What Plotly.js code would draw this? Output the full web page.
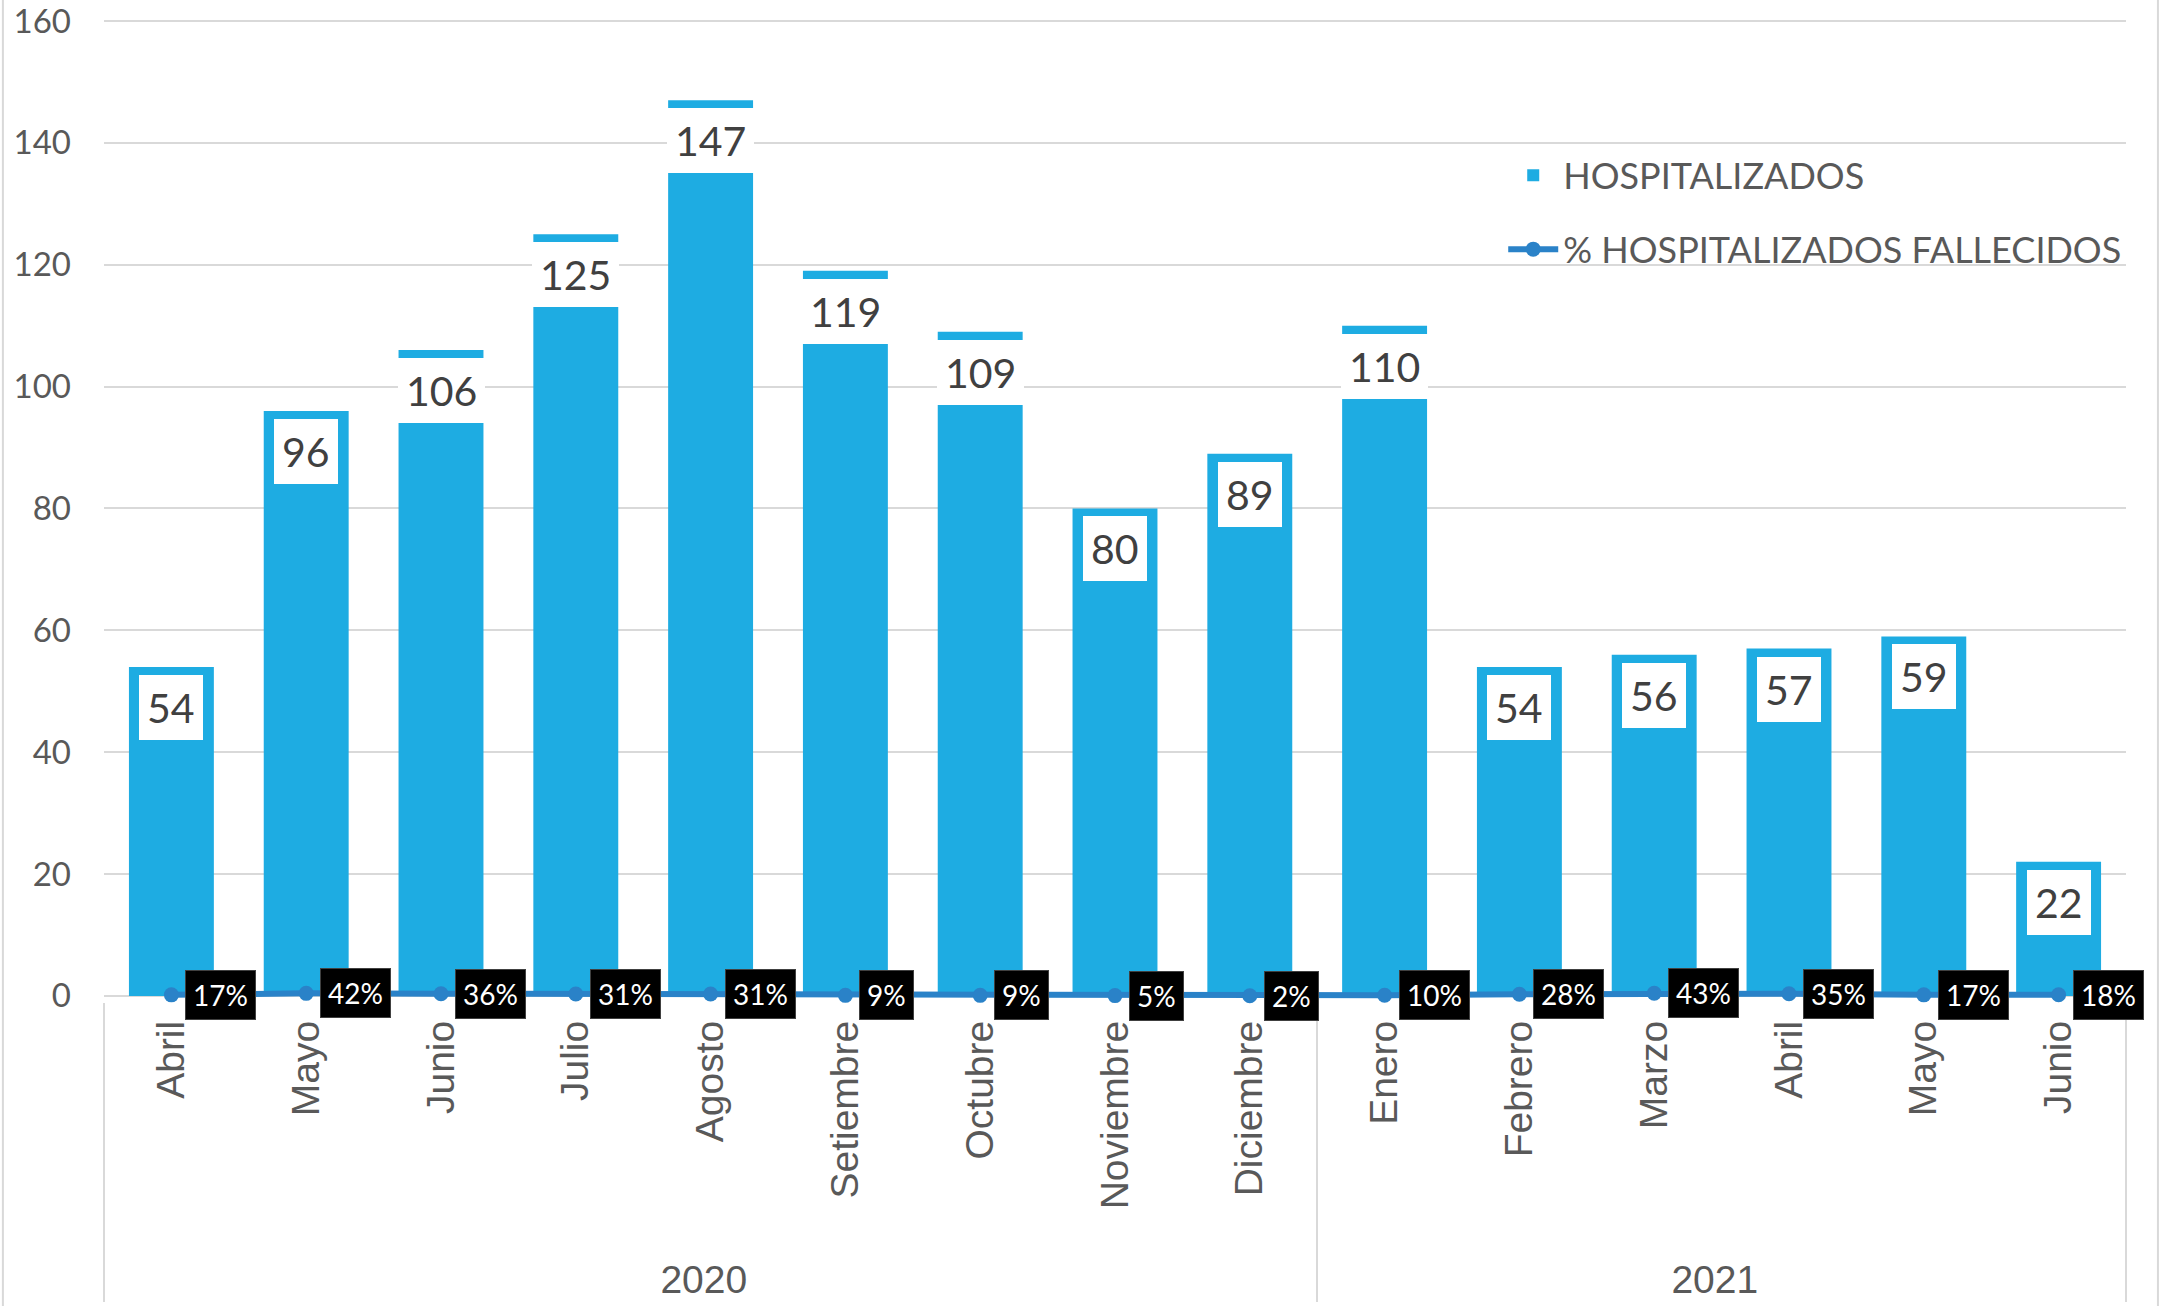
<!DOCTYPE html>
<html>
<head>
<meta charset="utf-8">
<script src="https://cdn.plot.ly/plotly-3.0.1.min.js"></script>
<style>
  html, body { margin: 0; padding: 0; background: #ffffff; }
  #chart { width: 2161px; height: 1306px; }
</style>
</head>
<body>
<div id="chart"></div>
<script>
// ---- data ----
const years = ['2020','2020','2020','2020','2020','2020','2020','2020','2020',
               '2021','2021','2021','2021','2021','2021'];
const months = ['Abril','Mayo','Junio','Julio','Agosto','Setiembre','Octubre','Noviembre','Diciembre',
                'Enero','Febrero','Marzo','Abril','Mayo','Junio'];
const hospitalizados = [54, 96, 106, 125, 147, 119, 109, 80, 89, 110, 54, 56, 57, 59, 22];
const pctFallecidos = [0.17, 0.42, 0.36, 0.31, 0.31, 0.09, 0.09, 0.05, 0.02, 0.10, 0.28, 0.43, 0.35, 0.17, 0.18];
const yTicks = [0, 20, 40, 60, 80, 100, 120, 140, 160];

// Multicategory sorts children by first appearance: keep repeated month names
// distinct per year with an invisible zero-width space, and pad the far end of
// each label with non-breaking spaces so the year row sits lower.
const PAD = '\u00A0\u00A0';
const monthLabels = months.map((m, i) => PAD + m + (years[i] === '2021' ? '\u200B' : ''));

const BAR_COLOR = '#1EACE2';
const LINE_COLOR = '#2A82C8';
const GRID = '#D9D9D9';
const TXT = '#595959';
const CAL = 'Lato, "Open Sans", sans-serif';
const ARI = '"Liberation Sans", Arial, sans-serif';

const barTrace = {
  type: 'bar',
  name: 'HOSPITALIZADOS',
  x: [years, monthLabels],
  y: hospitalizados,
  marker: { color: BAR_COLOR, line: { width: 0 } },
  legendgroup: 'a',
  hoverinfo: 'skip'
};

const lineTrace = {
  type: 'scatter',
  mode: 'lines+markers',
  name: '% HOSPITALIZADOS FALLECIDOS',
  x: [years, monthLabels],
  y: pctFallecidos,
  line: { color: LINE_COLOR, width: 6 },
  marker: { color: LINE_COLOR, size: 15 },
  legendgroup: 'b',
  hoverinfo: 'skip',
  cliponaxis: false
};

const annotations = [];
hospitalizados.forEach((v, i) => {
  annotations.push({
    x: i, y: v, xref: 'x', yref: 'y',
    text: String(v),
    showarrow: false,
    xanchor: 'center', yanchor: 'top', yshift: -8,
    bgcolor: '#FFFFFF', borderpad: 8, borderwidth: 0,
    font: { family: CAL, size: 41, color: '#404040' }
  });
});
pctFallecidos.forEach((v, i) => {
  annotations.push({
    x: i, y: v, xref: 'x', yref: 'y',
    text: Math.round(v * 100) + '%',
    showarrow: false,
    xanchor: 'left', yanchor: 'middle', xshift: 14,
    bgcolor: '#000000', bordercolor: '#404040', borderwidth: 1, borderpad: 7,
    font: { family: CAL, size: 28, color: '#FFFFFF' }
  });
});

const layout = {
  width: 2161, height: 1306,
  margin: { l: 103.5, r: 35, t: 18, b: 304 },
  paper_bgcolor: '#FFFFFF', plot_bgcolor: '#FFFFFF',
  bargap: 0.37,
  showlegend: true,
  legend: {
    x: 0.692, y: 0.8705, xanchor: 'left', yanchor: 'top',
    bgcolor: 'rgba(0,0,0,0)',
    font: { family: CAL, size: 36, color: TXT },
    traceorder: 'grouped', tracegroupgap: 24,
    itemwidth: 50
  },
  xaxis: {
    type: 'multicategory',
    range: [-0.5, 14.5],
    showline: false,
    showgrid: false, zeroline: false,
    ticks: '', ticklabelstandoff: 10,
    tickangle: -90,
    tickfont: { family: ARI, size: 39, color: TXT },
    showdividers: true, dividercolor: GRID, dividerwidth: 2
  },
  yaxis: {
    range: [-1, 160.5],
    tickvals: yTicks,
    ticktext: yTicks.map(String),
    showgrid: true, gridcolor: GRID, gridwidth: 2,
    zeroline: true, zerolinecolor: GRID, zerolinewidth: 2,
    showline: false, ticks: '',
    ticklabelstandoff: 32,
    ticklabeloverflow: 'allow',
    tickfont: { family: CAL, size: 33, color: TXT }
  },
  annotations: annotations,
  shapes: [
    { type: 'line', xref: 'paper', yref: 'paper', x0: -0.05, x1: -0.05, y0: -0.32, y1: 1.03,
      line: { color: GRID, width: 2 } },
    { type: 'line', xref: 'paper', yref: 'paper', x0: 1.0158, x1: 1.0158, y0: -0.32, y1: 1.03,
      line: { color: GRID, width: 2 } }
  ]
};

Plotly.newPlot('chart', [barTrace, lineTrace], layout, { displayModeBar: false, staticPlot: true });
</script>
</body>
</html>
